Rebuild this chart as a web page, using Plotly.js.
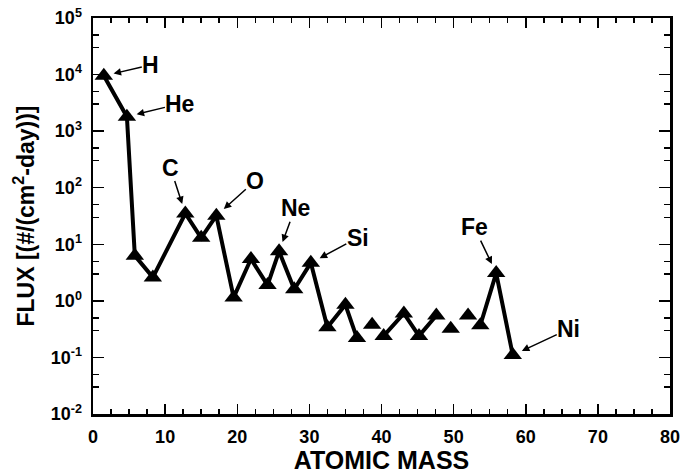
<!DOCTYPE html>
<html>
<head>
<meta charset="utf-8">
<script src="https://cdn.plot.ly/plotly-3.0.1.min.js"></script>
<style>html,body{margin:0;padding:0;background:#fff;}#chart{width:683px;height:474px;}</style>
</head>
<body>
<div id="chart"></div>
<script>
// Data
const atomicMass = [1.5, 4.7, 5.8, 8.3, 12.8, 15.0, 17.1, 19.5, 21.9, 24.2, 25.8, 27.9, 30.2, 32.5, 35.0, 36.6, 38.7, 40.3, 43.1, 45.2, 47.6, 49.6, 52.0, 53.7, 55.9, 58.2];
const flux = [9500, 1800, 6.3, 2.6, 35, 13, 32, 1.15, 5.5, 1.9, 7.5, 1.6, 4.7, 0.34, 0.85, 0.22, 0.38, 0.24, 0.6, 0.24, 0.55, 0.32, 0.55, 0.37, 3.1, 0.11];
// indices where the connecting line is broken (point not joined to the previous one)
const lineBreaksBefore = [16, 17, 21, 22, 23];

const elementNames = ['H', 'He', 'C', 'O', 'Ne', 'Si', 'Fe', 'Ni'];
const elementIndex = [0, 1, 4, 6, 10, 12, 24, 25];

const yTickVals = [1e-2, 1e-1, 1e0, 1e1, 1e2, 1e3, 1e4, 1e5];
const yTickText = ['10<sup>-2</sup>', '10<sup>-1</sup>', '10<sup>0</sup>', '10<sup>1</sup>', '10<sup>2</sup>', '10<sup>3</sup>', '10<sup>4</sup>', '10<sup>5</sup>'];

// label offsets (pixels) relative to the marked point
const labelDx = [47, 53, -15, 39, 16, 47, -22, 56];
const labelDy = [-11, -13, -46, -35, -43, -25, -46, -26];

// build line with gaps
const lx = [], ly = [];
for (let i = 0; i < atomicMass.length; i++) {
  if (lineBreaksBefore.includes(i)) { lx.push(null); ly.push(null); }
  lx.push(atomicMass[i]); ly.push(flux[i]);
}

// minor y ticks at 3 and 5 of each decade
const minorY = [];
for (let e = -2; e < 5; e++) { minorY.push(3 * Math.pow(10, e)); minorY.push(5 * Math.pow(10, e)); }

const FONT = 'Liberation Sans, Arial, Helvetica, sans-serif';

const traces = [
  {x: lx, y: ly, mode: 'lines', line: {color: '#000', width: 4}, connectgaps: false, hoverinfo: 'skip', showlegend: false},
  {x: atomicMass, y: flux, mode: 'markers', marker: {symbol: 'triangle-up', size: 16, color: '#000', line: {width: 0}}, showlegend: false}
];

const annotations = elementNames.map((name, k) => ({
  x: atomicMass[elementIndex[k]],
  y: Math.log10(flux[elementIndex[k]]),
  xref: 'x', yref: 'y',
  text: name,
  showarrow: true,
  arrowhead: 2, arrowsize: 1, arrowwidth: 1.5, arrowcolor: '#000',
  ax: labelDx[k], ay: labelDy[k],
  standoff: 10,
  borderpad: 0,
  font: {family: FONT, size: 23, color: '#000', weight: 'bold'}
}));

const layout = {
  width: 683, height: 474,
  margin: {l: 93, r: 13, t: 18, b: 60},
  paper_bgcolor: '#fff', plot_bgcolor: '#fff',
  showlegend: false,
  font: {family: FONT, color: '#000', weight: 'bold'},
  xaxis: {
    range: [0, 80], tickmode: 'linear', tick0: 0, dtick: 10,
    ticks: 'inside', ticklen: 10, tickwidth: 1.5, tickcolor: '#000',
    minor: {dtick: 2.5, ticks: 'inside', ticklen: 5, tickwidth: 1.5, tickcolor: '#000'},
    showline: true, linecolor: '#000', linewidth: 2.5, mirror: 'allticks',
    showgrid: false, zeroline: false,
    ticklabelstandoff: 5,
    tickfont: {family: FONT, size: 18, weight: 'bold'},
    title: {text: 'ATOMIC MASS', font: {family: FONT, size: 25, weight: 'bold'}, standoff: 7}
  },
  yaxis: {
    type: 'log', range: [-2, 5],
    tickmode: 'array', tickvals: yTickVals, ticktext: yTickText,
    ticks: 'inside', ticklen: 11, tickwidth: 1.5, tickcolor: '#000',
    minor: {tickmode: 'array', tickvals: minorY, ticks: 'inside', ticklen: 6, tickwidth: 1.5, tickcolor: '#000'},
    showline: true, linecolor: '#000', linewidth: 2.5, mirror: 'allticks',
    showgrid: false, zeroline: false,
    ticklabelstandoff: 5,
    tickfont: {family: FONT, size: 18, weight: 'bold'},
    title: {text: 'FLUX [(#/(cm<sup>2</sup>-day))]', font: {family: FONT, size: 23, weight: 'bold'}, standoff: 10}
  },
  annotations: annotations
};

Plotly.newPlot('chart', traces, layout, {staticPlot: true, displayModeBar: false});
</script>
</body>
</html>
